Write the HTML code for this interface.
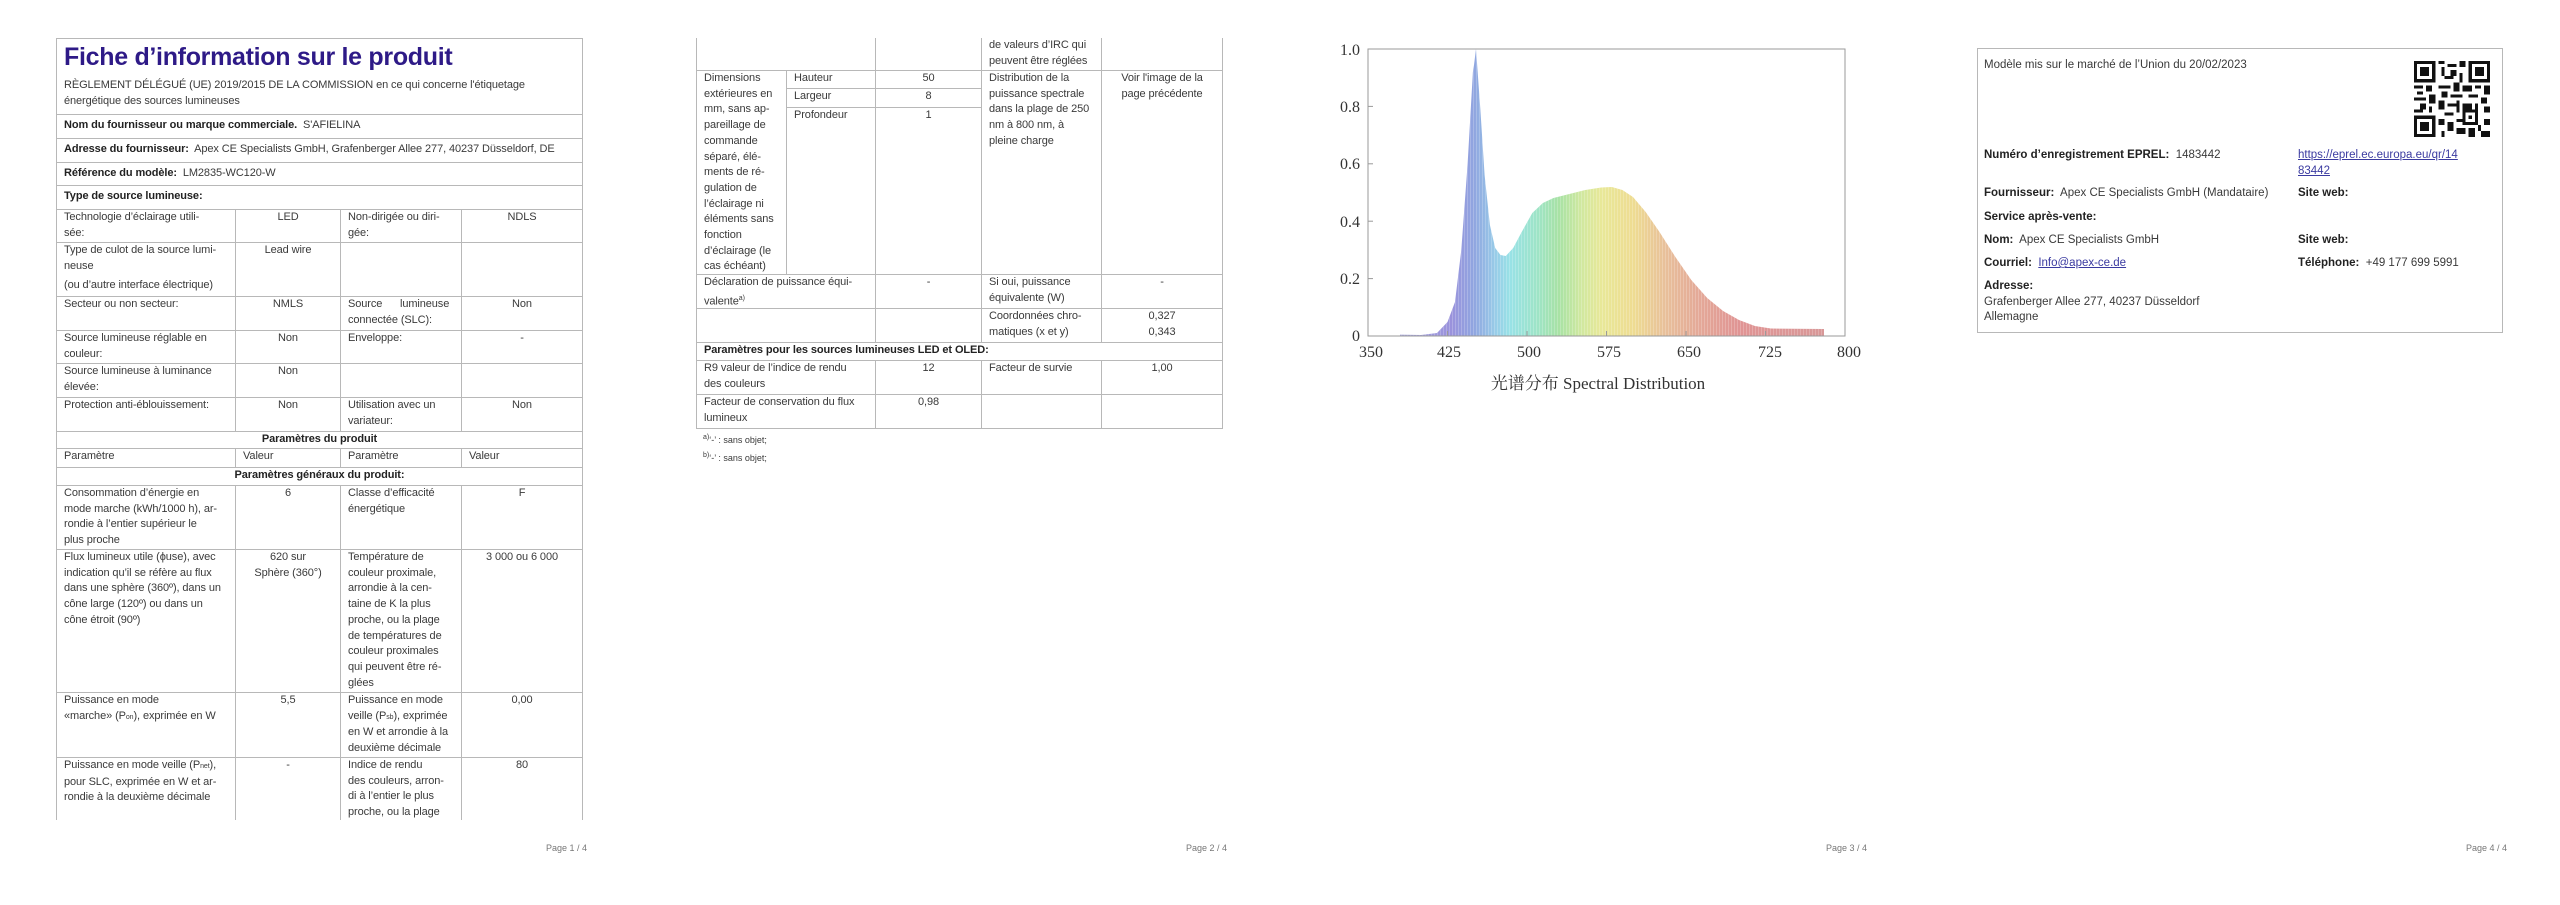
<!DOCTYPE html>
<html><head><meta charset="utf-8"><style>
body{margin:0;width:2560px;height:905px;background:#fff;position:relative;overflow:hidden;font-family:"Liberation Sans","Noto Sans CJK SC",sans-serif;color:#3a3a3a}
.c{position:absolute;box-sizing:border-box;border:1px solid #b8b8b8;padding:0 7px;font-size:11px;line-height:15.7px;overflow:hidden;white-space:nowrap;letter-spacing:-0.1px}
.nb{border-bottom:none}.nt{border-top:none}
.ctr{text-align:center}
b{color:#222}
.t{position:absolute;font-size:11.5px;line-height:15.7px;white-space:nowrap}
.pg{position:absolute;font-size:9px;color:#777;top:843px}
a{color:#3a3aa0;text-decoration:underline}
</style></head><body>

<!-- PAGE 1 -->
<div class="c" style="left:56px;top:38px;width:527px;height:77px">
<div style="font-weight:bold;font-size:25px;line-height:30px;color:#2e1a87;margin-top:3px;letter-spacing:-0.3px">Fiche d’information sur le produit</div>
<div style="margin-top:6px">RÈGLEMENT DÉLÉGUÉ (UE) 2019/2015 DE LA COMMISSION en ce qui concerne l'étiquetage<br>énergétique des sources lumineuses</div></div>
<div class="c" style="left:56px;top:114px;width:527px;height:25px;padding-top:3px"><b>Nom du fournisseur ou marque commerciale.</b>&nbsp; S'AFIELINA</div>
<div class="c" style="left:56px;top:138px;width:527px;height:25px;padding-top:3px"><b>Adresse du fournisseur:</b>&nbsp; Apex CE Specialists GmbH, Grafenberger Allee 277, 40237 Düsseldorf, DE</div>
<div class="c" style="left:56px;top:162px;width:527px;height:24px;padding-top:3px"><b>Référence du modèle:</b>&nbsp; LM2835-WC120-W</div>
<div class="c" style="left:56px;top:185px;width:527px;height:25px;padding-top:3px"><b>Type de source lumineuse:</b></div>

<div class="c" style="left:56px;top:209px;width:180px;height:34px">Technologie d’éclairage utili-<br>sée:</div>
<div class="c ctr" style="left:235px;top:209px;width:106px;height:34px">LED</div>
<div class="c" style="left:340px;top:209px;width:122px;height:34px">Non-dirigée ou diri-<br>gée:</div>
<div class="c ctr" style="left:461px;top:209px;width:122px;height:34px">NDLS</div>

<div class="c" style="left:56px;top:242px;width:180px;height:55px">Type de culot de la source lumi-<br>neuse<div style="margin-top:4px">(ou d’autre interface électrique)</div></div>
<div class="c ctr" style="left:235px;top:242px;width:106px;height:55px">Lead wire</div>
<div class="c" style="left:340px;top:242px;width:122px;height:55px"></div>
<div class="c" style="left:461px;top:242px;width:122px;height:55px"></div>

<div class="c" style="left:56px;top:296px;width:180px;height:35px">Secteur ou non secteur:</div>
<div class="c ctr" style="left:235px;top:296px;width:106px;height:35px">NMLS</div>
<div class="c" style="left:340px;top:296px;width:122px;height:35px">Source&nbsp;&nbsp;&nbsp;&nbsp;&nbsp; lumineuse<br>connectée (SLC):</div>
<div class="c ctr" style="left:461px;top:296px;width:122px;height:35px">Non</div>

<div class="c" style="left:56px;top:330px;width:180px;height:34px">Source lumineuse réglable en<br>couleur:</div>
<div class="c ctr" style="left:235px;top:330px;width:106px;height:34px">Non</div>
<div class="c" style="left:340px;top:330px;width:122px;height:34px">Enveloppe:</div>
<div class="c ctr" style="left:461px;top:330px;width:122px;height:34px">-</div>

<div class="c" style="left:56px;top:363px;width:180px;height:35px">Source lumineuse à luminance<br>élevée:</div>
<div class="c ctr" style="left:235px;top:363px;width:106px;height:35px">Non</div>
<div class="c" style="left:340px;top:363px;width:122px;height:35px"></div>
<div class="c" style="left:461px;top:363px;width:122px;height:35px"></div>

<div class="c" style="left:56px;top:397px;width:180px;height:35px">Protection anti-éblouissement:</div>
<div class="c ctr" style="left:235px;top:397px;width:106px;height:35px">Non</div>
<div class="c" style="left:340px;top:397px;width:122px;height:35px">Utilisation avec un<br>variateur:</div>
<div class="c ctr" style="left:461px;top:397px;width:122px;height:35px">Non</div>

<div class="c ctr" style="left:56px;top:431px;width:527px;height:18px"><b>Paramètres du produit</b></div>
<div class="c" style="left:56px;top:448px;width:180px;height:20px">Paramètre</div>
<div class="c" style="left:235px;top:448px;width:106px;height:20px">Valeur</div>
<div class="c" style="left:340px;top:448px;width:122px;height:20px">Paramètre</div>
<div class="c" style="left:461px;top:448px;width:122px;height:20px">Valeur</div>
<div class="c ctr" style="left:56px;top:467px;width:527px;height:19px"><b>Paramètres généraux du produit:</b></div>

<div class="c" style="left:56px;top:485px;width:180px;height:65px">Consommation d’énergie en<br>mode marche (kWh/1000 h), ar-<br>rondie à l’entier supérieur le<br>plus proche</div>
<div class="c ctr" style="left:235px;top:485px;width:106px;height:65px">6</div>
<div class="c" style="left:340px;top:485px;width:122px;height:65px">Classe d’efficacité<br>énergétique</div>
<div class="c ctr" style="left:461px;top:485px;width:122px;height:65px">F</div>

<div class="c" style="left:56px;top:549px;width:180px;height:144px">Flux lumineux utile (ϕuse), avec<br>indication qu’il se réfère au flux<br>dans une sphère (360º), dans un<br>cône large (120º) ou dans un<br>cône étroit (90º)</div>
<div class="c ctr" style="left:235px;top:549px;width:106px;height:144px">620 sur<br>Sphère (360°)</div>
<div class="c" style="left:340px;top:549px;width:122px;height:144px">Température de<br>couleur proximale,<br>arrondie à la cen-<br>taine de K la plus<br>proche, ou la plage<br>de températures de<br>couleur proximales<br>qui peuvent être ré-<br>glées</div>
<div class="c ctr" style="left:461px;top:549px;width:122px;height:144px">3 000 ou 6 000</div>

<div class="c" style="left:56px;top:692px;width:180px;height:66px">Puissance en mode<br>«marche» (P<span style="font-size:7px">on</span>), exprimée en W</div>
<div class="c ctr" style="left:235px;top:692px;width:106px;height:66px">5,5</div>
<div class="c" style="left:340px;top:692px;width:122px;height:66px">Puissance en mode<br>veille (P<span style="font-size:7px">sb</span>), exprimée<br>en W et arrondie à la<br>deuxième décimale</div>
<div class="c ctr" style="left:461px;top:692px;width:122px;height:66px">0,00</div>

<div class="c nb" style="left:56px;top:757px;width:180px;height:63px">Puissance en mode veille (P<span style="font-size:7px">net</span>),<br>pour SLC, exprimée en W et ar-<br>rondie à la deuxième décimale</div>
<div class="c ctr nb" style="left:235px;top:757px;width:106px;height:63px">-</div>
<div class="c nb" style="left:340px;top:757px;width:122px;height:63px">Indice de rendu<br>des couleurs, arron-<br>di à l’entier le plus<br>proche, ou la plage</div>
<div class="c ctr nb" style="left:461px;top:757px;width:122px;height:63px">80</div>
<div class="pg" style="left:546px">Page 1 / 4</div>

<!-- PAGE 2 -->
<div class="c nt" style="left:696px;top:38px;width:180px;height:33px"></div>
<div class="c nt" style="left:875px;top:38px;width:107px;height:33px"></div>
<div class="c nt" style="left:981px;top:38px;width:121px;height:33px">de valeurs d’IRC qui<br>peuvent être réglées</div>
<div class="c nt" style="left:1101px;top:38px;width:122px;height:33px"></div>

<div class="c" style="left:696px;top:70px;width:91px;height:205px">Dimensions<br>extérieures en<br>mm, sans ap-<br>pareillage de<br>commande<br>séparé, élé-<br>ments de ré-<br>gulation de<br>l’éclairage ni<br>éléments sans<br>fonction<br>d’éclairage (le<br>cas échéant)</div>
<div class="c" style="left:786px;top:70px;width:90px;height:19px">Hauteur</div>
<div class="c ctr" style="left:875px;top:70px;width:107px;height:19px">50</div>
<div class="c" style="left:786px;top:88px;width:90px;height:20px">Largeur</div>
<div class="c ctr" style="left:875px;top:88px;width:107px;height:20px">8</div>
<div class="c" style="left:786px;top:107px;width:90px;height:168px">Profondeur</div>
<div class="c ctr" style="left:875px;top:107px;width:107px;height:168px">1</div>
<div class="c" style="left:981px;top:70px;width:121px;height:205px">Distribution de la<br>puissance spectrale<br>dans la plage de 250<br>nm à 800 nm, à<br>pleine charge</div>
<div class="c ctr" style="left:1101px;top:70px;width:122px;height:205px">Voir l'image de la<br>page précédente</div>

<div class="c" style="left:696px;top:274px;width:180px;height:35px">Déclaration de puissance équi-<br>valente<sup style="font-size:7px">a)</sup></div>
<div class="c ctr" style="left:875px;top:274px;width:107px;height:35px">-</div>
<div class="c" style="left:981px;top:274px;width:121px;height:35px">Si oui, puissance<br>équivalente (W)</div>
<div class="c ctr" style="left:1101px;top:274px;width:122px;height:35px">-</div>

<div class="c" style="left:696px;top:308px;width:180px;height:35px"></div>
<div class="c" style="left:875px;top:308px;width:107px;height:35px"></div>
<div class="c" style="left:981px;top:308px;width:121px;height:35px">Coordonnées chro-<br>matiques (x et y)</div>
<div class="c ctr" style="left:1101px;top:308px;width:122px;height:35px">0,327<br>0,343</div>

<div class="c" style="left:696px;top:342px;width:527px;height:19px"><b>Paramètres pour les sources lumineuses LED et OLED:</b></div>
<div class="c" style="left:696px;top:360px;width:180px;height:35px">R9 valeur de l’indice de rendu<br>des couleurs</div>
<div class="c ctr" style="left:875px;top:360px;width:107px;height:35px">12</div>
<div class="c" style="left:981px;top:360px;width:121px;height:35px">Facteur de survie</div>
<div class="c ctr" style="left:1101px;top:360px;width:122px;height:35px">1,00</div>
<div class="c" style="left:696px;top:394px;width:180px;height:35px">Facteur de conservation du flux<br>lumineux</div>
<div class="c ctr" style="left:875px;top:394px;width:107px;height:35px">0,98</div>
<div class="c" style="left:981px;top:394px;width:121px;height:35px"></div>
<div class="c" style="left:1101px;top:394px;width:122px;height:35px"></div>
<div class="t" style="left:703px;top:430px;font-size:9px"><sup style="font-size:7px">a)</sup>‘-’ : sans objet;</div>
<div class="t" style="left:703px;top:448px;font-size:9px"><sup style="font-size:7px">b)</sup>‘-’ : sans objet;</div>
<div class="pg" style="left:1186px">Page 2 / 4</div>

<!-- PAGE 3 chart -->
<svg style="position:absolute;left:0;top:0" width="2560" height="905">
<defs><linearGradient id="sp" gradientUnits="userSpaceOnUse" x1="1400" y1="0" x2="1824" y2="0">
<stop offset="0" stop-color="#a6a6dc"/><stop offset="0.12" stop-color="#9a92dc"/><stop offset="0.175" stop-color="#90a6e0"/>
<stop offset="0.225" stop-color="#98cce8"/><stop offset="0.26" stop-color="#98e2e6"/><stop offset="0.325" stop-color="#9ee4c6"/>
<stop offset="0.375" stop-color="#a8e2a4"/><stop offset="0.425" stop-color="#cfe8a0"/><stop offset="0.475" stop-color="#e8e898"/>
<stop offset="0.55" stop-color="#eedc92"/><stop offset="0.625" stop-color="#e8c09a"/><stop offset="0.7" stop-color="#e4aa98"/>
<stop offset="0.8" stop-color="#e09494"/><stop offset="1" stop-color="#d89898"/></linearGradient>
<pattern id="st" width="3" height="10" patternUnits="userSpaceOnUse"><rect x="0" y="0" width="0.6" height="10" fill="#fff" fill-opacity="0.35"/></pattern></defs>
<path d="M1400,336 L1400,334.6 L1421,335 L1437,333 L1447.5,322 L1455,302 L1461.3,250 L1467.6,164 L1472.9,72 L1474,65 L1476,49 L1480.4,110 L1484.6,175 L1489.9,225 L1495.2,248 L1500.5,255 L1505.8,256 L1513.2,248 L1521.7,232 L1532.3,213 L1542.9,203 L1553.5,198 L1569.4,194 L1585.3,190 L1601.2,187.5 L1611.8,187 L1622.4,190 L1633,197 L1645.7,212 L1659.5,232 L1675.4,257 L1691.3,280 L1707.2,298 L1723.1,311 L1739,320 L1754.9,326 L1770.8,328.5 L1824,329 L1824,336 Z" fill="url(#sp)"/>
<path d="M1400,336 L1400,334.6 L1421,335 L1437,333 L1447.5,322 L1455,302 L1461.3,250 L1467.6,164 L1472.9,72 L1474,65 L1476,49 L1480.4,110 L1484.6,175 L1489.9,225 L1495.2,248 L1500.5,255 L1505.8,256 L1513.2,248 L1521.7,232 L1532.3,213 L1542.9,203 L1553.5,198 L1569.4,194 L1585.3,190 L1601.2,187.5 L1611.8,187 L1622.4,190 L1633,197 L1645.7,212 L1659.5,232 L1675.4,257 L1691.3,280 L1707.2,298 L1723.1,311 L1739,320 L1754.9,326 L1770.8,328.5 L1824,329 L1824,336 Z" fill="url(#st)"/>
<rect x="1368" y="49" width="477" height="287" fill="none" stroke="#9a9a9a" stroke-width="1"/>
<g stroke="#9a9a9a">
<line x1="1368" y1="278.6" x2="1373" y2="278.6"/><line x1="1368" y1="221.2" x2="1373" y2="221.2"/><line x1="1368" y1="163.8" x2="1373" y2="163.8"/><line x1="1368" y1="106.4" x2="1373" y2="106.4"/>
<line x1="1447.5" y1="336" x2="1447.5" y2="331"/><line x1="1527" y1="336" x2="1527" y2="331"/><line x1="1606.5" y1="336" x2="1606.5" y2="331"/><line x1="1686" y1="336" x2="1686" y2="331"/><line x1="1765.5" y1="336" x2="1765.5" y2="331"/>
</g>
<g font-family="Liberation Serif, serif" font-size="16" fill="#333" text-anchor="end">
<text x="1360" y="55">1.0</text><text x="1360" y="112">0.8</text><text x="1360" y="169">0.6</text><text x="1360" y="227">0.4</text><text x="1360" y="284">0.2</text><text x="1360" y="341">0</text></g>
<g font-family="Liberation Serif, serif" font-size="16" fill="#333" text-anchor="middle">
<text x="1371" y="357">350</text><text x="1449" y="357">425</text><text x="1529" y="357">500</text><text x="1609" y="357">575</text><text x="1689" y="357">650</text><text x="1770" y="357">725</text><text x="1849" y="357">800</text></g>
<text x="1598" y="389" font-family="Liberation Serif, 'Noto Serif CJK SC', serif" font-size="17" fill="#333" text-anchor="middle">光谱分布 Spectral Distribution</text>
</svg>
<div class="pg" style="left:1826px">Page 3 / 4</div>

<!-- PAGE 4 -->
<div style="position:absolute;left:1977px;top:48px;width:524px;height:283px;border:1px solid #b8b8b8"></div>
<div class="t" style="left:1984px;top:58px">Modèle mis sur le marché de l’Union du 20/02/2023</div>
<svg style="position:absolute;left:2414px;top:61px" width="76" height="76" viewBox="0 0 25 25" shape-rendering="crispEdges">
<g fill="#111">
<path d="M0 0h7v7h-7zM1 1v5h5v-5zM2 2h3v3h-3z" fill-rule="evenodd"/>
<path d="M18 0h7v7h-7zM19 1v5h5v-5zM20 2h3v3h-3z" fill-rule="evenodd"/>
<path d="M0 18h7v7h-7zM1 19v5h5v-5zM2 20h3v3h-3z" fill-rule="evenodd"/>
<rect x="8" y="0" width="2" height="1"/><rect x="11" y="1" width="3" height="1"/><rect x="9" y="2" width="1" height="3"/><rect x="12" y="3" width="2" height="2"/><rect x="15" y="0" width="2" height="2"/><rect x="15" y="4" width="1" height="3"/><rect x="10" y="5" width="3" height="1"/>
<rect x="0" y="8" width="3" height="1"/><rect x="4" y="8" width="2" height="2"/><rect x="1" y="10" width="2" height="1"/><rect x="0" y="12" width="4" height="1"/><rect x="5" y="11" width="2" height="3"/><rect x="2" y="14" width="2" height="2"/><rect x="0" y="16" width="3" height="1"/><rect x="5" y="15" width="1" height="2"/>
<rect x="8" y="8" width="4" height="1"/><rect x="13" y="7" width="2" height="3"/><rect x="9" y="10" width="2" height="2"/><rect x="12" y="11" width="4" height="1"/><rect x="16" y="8" width="3" height="2"/><rect x="20" y="8" width="2" height="1"/><rect x="23" y="8" width="2" height="3"/><rect x="18" y="11" width="3" height="1"/><rect x="22" y="12" width="2" height="2"/>
<rect x="8" y="13" width="2" height="3"/><rect x="11" y="14" width="3" height="1"/><rect x="14" y="13" width="1" height="4"/><rect x="16" y="14" width="3" height="2"/><rect x="20" y="14" width="1" height="3"/><rect x="23" y="15" width="2" height="2"/><rect x="10" y="17" width="3" height="1"/>
<rect x="8" y="19" width="2" height="2"/><rect x="11" y="20" width="2" height="3"/><rect x="14" y="19" width="3" height="1"/><rect x="16" y="16" width="5" height="5"/><rect x="9" y="23" width="1" height="2"/><rect x="14" y="22" width="3" height="2"/><rect x="18" y="22" width="2" height="3"/><rect x="21" y="21" width="1" height="2"/><rect x="23" y="19" width="2" height="2"/><rect x="22" y="23" width="3" height="2"/>
</g><rect x="17" y="17" width="3" height="3" fill="#fff"/><rect x="18" y="18" width="1" height="1" fill="#111"/></svg>
<div class="t" style="left:1984px;top:148px"><b>Numéro d’enregistrement EPREL:</b>&nbsp; 1483442</div>
<div class="t" style="left:2298px;top:148px"><a>https://eprel.ec.europa.eu/qr/14</a><br><a>83442</a></div>
<div class="t" style="left:1984px;top:186px"><b>Fournisseur:</b>&nbsp; Apex CE Specialists GmbH (Mandataire)</div>
<div class="t" style="left:2298px;top:186px"><b>Site web:</b></div>
<div class="t" style="left:1984px;top:210px"><b>Service après-vente:</b></div>
<div class="t" style="left:1984px;top:233px"><b>Nom:</b>&nbsp; Apex CE Specialists GmbH</div>
<div class="t" style="left:2298px;top:233px"><b>Site web:</b></div>
<div class="t" style="left:1984px;top:256px"><b>Courriel:</b>&nbsp; <a>Info@apex-ce.de</a></div>
<div class="t" style="left:2298px;top:256px"><b>Téléphone:</b>&nbsp; +49 177 699 5991</div>
<div class="t" style="left:1984px;top:279px"><b>Adresse:</b><br>Grafenberger Allee 277, 40237 Düsseldorf<br>Allemagne</div>
<div class="pg" style="left:2466px">Page 4 / 4</div>
</body></html>
